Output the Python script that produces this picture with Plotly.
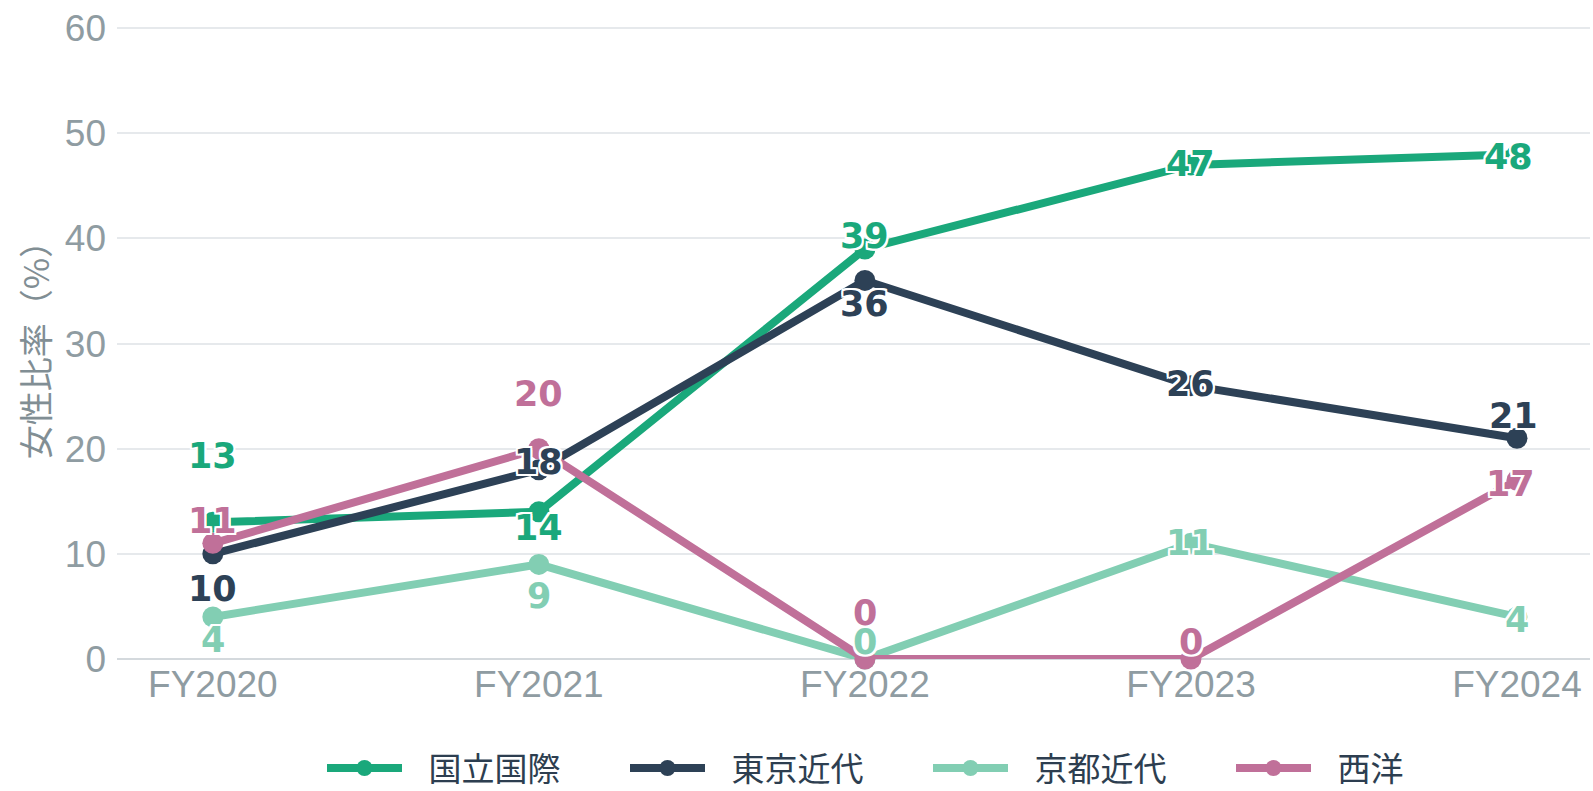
import plotly.graph_objects as go

categories = ["FY2020", "FY2021", "FY2022", "FY2023", "FY2024"]
series_names = ["国立国際", "東京近代", "京都近代", "西洋"]
kokuritsu = [13, 14, 39, 47, 48]
tokyo = [10, 18, 36, 26, 21]
kyoto = [4, 9, 0, 11, 4]
seiyo = [11, 20, 0, 0, 17]
y_ticks = [0, 10, 20, 30, 40, 50, 60]

series_values = [kokuritsu, tokyo, kyoto, seiyo]
colors = ["#1aa87b", "#2d4156", "#82ceb3", "#c07099"]
# label vertical offsets in pixels (style only)
label_shift = [
    [66, -16, 13, 1, -3],
    [-35, 8, -23, 2, 22],
    [-23, -32, 17, 0, -3],
    [22, 55, 46, 17, -4],
]
label_xshift = [
    [0, 0, 0, 0, -8],
    [0, 0, 0, 0, -3],
    [0, 0, 0, 0, 0],
    [0, 0, 0, 0, -6],
]

fig = go.Figure()
for name, vals, col in zip(series_names, series_values, colors):
    fig.add_trace(go.Scatter(
        x=categories, y=vals, name="\u00a0\u00a0\u2009" + name, mode="lines+markers",
        line=dict(color=col, width=8),
        marker=dict(color=col, size=21),
        cliponaxis=False,
    ))

outline = "2px 2px 0 #fff, -2px -2px 0 #fff, 2px -2px 0 #fff, -2px 2px 0 #fff, 0 2px 0 #fff, 0 -2px 0 #fff, 2px 0 0 #fff, -2px 0 0 #fff"
for vals, col, shifts, xs in zip(series_values, colors, label_shift, label_xshift):
    for c, v, s, dx in zip(categories, vals, shifts, xs):
        fig.add_annotation(
            x=c, y=v, text=str(v), showarrow=False, yshift=s, xshift=dx,
            font=dict(family="DejaVu Sans", size=35, color=col, weight="bold", shadow=outline),
        )

fig.update_layout(
    width=1593, height=791,
    margin=dict(l=117, r=3, t=24, b=132, autoexpand=False),
    paper_bgcolor="white", plot_bgcolor="white",
    showlegend=True,
    legend=dict(
        orientation="h", x=322 / 1593, xref="container", xanchor="left",
        y=0.029, yref="container", yanchor="middle",
        font=dict(family="Noto Sans CJK JP", size=33, color="#2d3e50"),
        itemwidth=75, entrywidth=213, traceorder="normal",
    ),
    xaxis=dict(
        range=[-0.294, 4.224], showgrid=False, zeroline=False, showline=False,
        tickfont=dict(family="Liberation Sans", size=37, color="#8f9ca2"),
        ticks="", ticklabelstandoff=0,
    ),
    yaxis=dict(
        range=[0, 60.4], tickvals=y_ticks, showgrid=True, gridcolor="#e6e9ec", gridwidth=2,
        zeroline=True, zerolinecolor="#d4d9dd", zerolinewidth=2, showline=False,
        tickfont=dict(family="Liberation Sans", size=37, color="#8f9ca2"),
        ticks="", ticklabelstandoff=10,
        title=dict(text="女性比率（%）", font=dict(family="Noto Sans CJK JP", size=34, color="#818e94"), standoff=4),
    ),
)

fig.write_html("out.html", config={"displayModeBar": False},
               post_script="document.body.style.margin='0';")
